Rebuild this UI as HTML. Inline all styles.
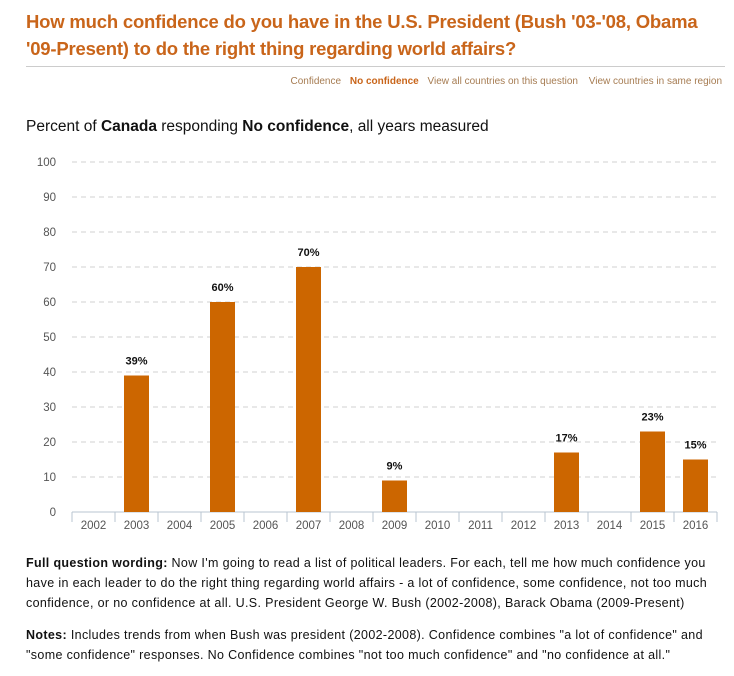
<!DOCTYPE html>
<html><head><meta charset="utf-8"><style>
body{margin:0;width:734px;height:676px;background:#fff;font-family:"Liberation Sans",sans-serif;overflow:hidden;position:relative}
.title{position:absolute;left:26px;top:8px;width:720px;color:#c9651a;font-size:18.5px;font-weight:bold;line-height:27px;letter-spacing:-0.2px;white-space:nowrap}
.rule{position:absolute;left:26px;top:66px;width:699px;height:1px;background:#ccc}
.links{position:absolute;right:12px;top:76px;font-size:10px;color:#a67c52}
.links span{margin-left:6px}
.sub{position:absolute;left:26px;top:118px;font-size:15.5px;color:#111}
.txt{position:absolute;left:26px;width:720px;font-size:12.5px;letter-spacing:0.35px;line-height:20px;color:#111;white-space:nowrap}
</style></head><body>
<div class="title">How much confidence do you have in the U.S. President (Bush '03-'08, Obama<br>'09-Present) to do the right thing regarding world affairs?</div>
<div class="rule"></div>
<div class="links"><span>Confidence</span> <span style="font-weight:bold;color:#c9651a">No confidence</span> <span>View all countries on this question</span> <span style="margin-left:8px">View countries in same region</span></div>
<div class="sub">Percent of <b>Canada</b> responding <b>No confidence</b>, all years measured</div>
<svg id="chart" width="734" height="676" style="position:absolute;left:0;top:0"></svg>
<div class="txt" style="top:553px"><b>Full question wording:</b> Now I'm going to read a list of political leaders. For each, tell me how much confidence you<br>have in each leader to do the right thing regarding world affairs - a lot of confidence, some confidence, not too much<br>confidence, or no confidence at all. U.S. President George W. Bush (2002-2008), Barack Obama (2009-Present)</div>
<div class="txt" style="top:625px"><b>Notes:</b> Includes trends from when Bush was president (2002-2008). Confidence combines "a lot of confidence" and<br>"some confidence" responses. No Confidence combines "not too much confidence" and "no confidence at all."</div>
<script>
const categories=["2002","2003","2004","2005","2006","2007","2008","2009","2010","2011","2012","2013","2014","2015","2016"];
const values=[null,39,null,60,null,70,null,9,null,null,null,17,null,23,15];
const yTicks=[0,10,20,30,40,50,60,70,80,90,100];
const svg=document.getElementById('chart');const NS='http://www.w3.org/2000/svg';
const x0=72,x1=717,y0=512,yTop=162;
const bw=(x1-x0)/categories.length;
const y=v=>y0-(v/100)*(y0-yTop);
function mk(t,a){const e=document.createElementNS(NS,t);for(const k in a)e.setAttribute(k,a[k]);svg.appendChild(e);return e;}
yTicks.forEach(t=>{
 if(t>0){const l=mk('line',{x1:x0,x2:x1,y1:y(t),y2:y(t),stroke:'#d0d0d0','stroke-dasharray':'5,4'});
 
 }
 const tx=mk('text',{x:56,y:y(t)+4,'text-anchor':'end','font-size':'11.5','fill':'#555','font-family':'Liberation Sans, sans-serif'});tx.textContent=t;
 
 
});
const ax=mk('line',{x1:x0,x2:x1,y1:y0,y2:y0,stroke:'#b8c4d0'});


categories.forEach((c,i)=>{
 const cx=x0+bw*(i+0.5);
 const tk=mk('line',{x1:x0+bw*i,x2:x0+bw*i,y1:y0,y2:y0+10,stroke:'#b8c4d0'});
 
 
 const tx=mk('text',{x:cx,y:y0+17,'text-anchor':'middle','font-size':'11.5','fill':'#555','font-family':'Liberation Sans, sans-serif'});tx.textContent=c;
 
 
 const v=values[i];
 if(v!=null){
  const r=mk('rect',{x:cx-12.5,y:y(v),width:25,height:y0-y(v),fill:'#cc6600'});
  
  
  const lb=mk('text',{x:cx,y:y(v)-11,'text-anchor':'middle','font-size':'11','font-weight':'bold','fill':'#111','font-family':'Liberation Sans, sans-serif'});lb.textContent=v+'%';
  
  
 }
});
const rt=mk('line',{x1:x1,x2:x1,y1:y0,y2:y0+10,stroke:'#b8c4d0'});


</script>
</body></html>
